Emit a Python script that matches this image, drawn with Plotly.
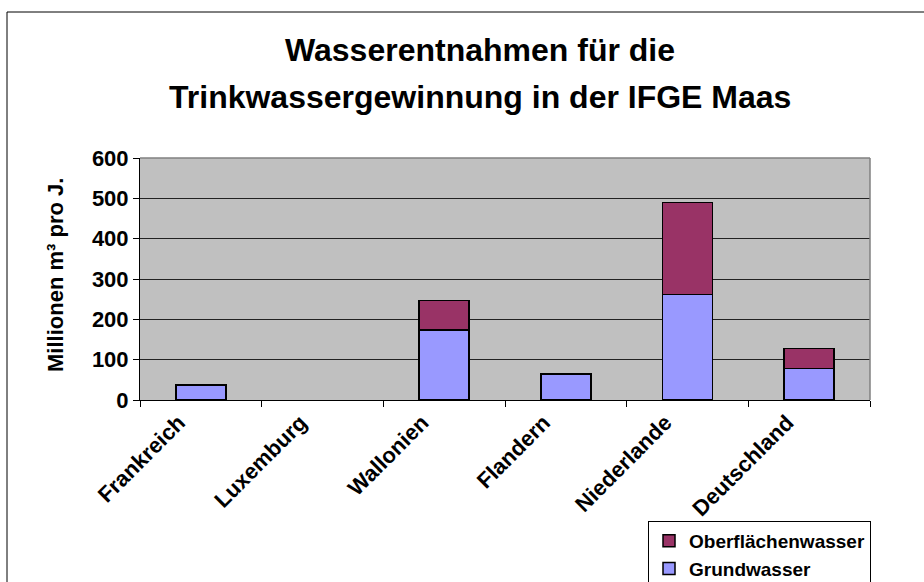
import plotly.graph_objects as go

categories = ["Frankreich", "Luxemburg", "Wallonien", "Flandern", "Niederlande", "Deutschland"]
grundwasser = [37, None, 173, 65, 262, 78]
oberflaechenwasser = [None, None, 74, None, 228, 50]
y_ticks = [0, 100, 200, 300, 400, 500, 600]

FONT = "Liberation Sans, Arial, sans-serif"

fig = go.Figure()
fig.add_trace(go.Bar(
    x=categories, y=grundwasser, name="Grundwasser",
    marker=dict(color="#9999FF", line=dict(color="black", width=1.5)),
))
fig.add_trace(go.Bar(
    x=categories, y=oberflaechenwasser, name="Oberflächenwasser",
    marker=dict(color="#993366", line=dict(color="black", width=1.5)),
))

fig.update_layout(
    width=924, height=582,
    margin=dict(l=140, r=54, t=158, b=182, autoexpand=False),
    barmode="stack", bargap=0.59,
    paper_bgcolor="white", plot_bgcolor="#C0C0C0",
    font=dict(family=FONT, color="black", size=22, weight="bold"),
    showlegend=True,
    legend=dict(
        x=(648 - 140) / 730, y=(400 - 521) / 242, xanchor="left", yanchor="top",
        bgcolor="white", bordercolor="black", borderwidth=1,
        font=dict(family=FONT, size=19, weight="bold", color="black"),
        traceorder="reversed", itemwidth=30, tracegroupgap=0, entrywidth=260,
    ),
    xaxis=dict(
        type="category", tickangle=-45, tickson="boundaries",
        ticks="outside", ticklen=6, tickcolor="black",
        showline=True, linecolor="black", linewidth=1, mirror=False,
        showgrid=False, ticklabelshift=-22,
        tickfont=dict(family=FONT, size=22, weight="bold"),
    ),
    yaxis=dict(
        range=[0, 600], tickvals=y_ticks,
        ticks="outside", ticklen=6, tickcolor="black",
        showline=True, linecolor="black", linewidth=1,
        showgrid=True, gridcolor="#222222", gridwidth=1,
        zeroline=False,
        tickfont=dict(family=FONT, size=22, weight="bold"),
    ),
    shapes=[
        dict(type="line", xref="paper", yref="paper", x0=0, x1=1, y0=1, y1=1,
             line=dict(color="#808080", width=1.5)),
        dict(type="line", xref="paper", yref="paper", x0=1, x1=1, y0=0, y1=1,
             line=dict(color="#808080", width=1.5)),
        dict(type="rect", xref="paper", yref="paper", x0=(7 - 140) / 730, x1=1.3,
             y0=-1.0, y1=(400 - 12) / 242,
             line=dict(color="black", width=1)),
    ],
    annotations=[
        dict(text="Wasserentnahmen für die", xref="paper", yref="paper",
             x=(480 - 140) / 730, y=(400 - 50) / 242, xanchor="center", yanchor="middle",
             showarrow=False, font=dict(family=FONT, size=32, weight="bold")),
        dict(text="Trinkwassergewinnung in der IFGE Maas", xref="paper", yref="paper",
             x=(480 - 140) / 730, y=(400 - 97) / 242, xanchor="center", yanchor="middle",
             showarrow=False, font=dict(family=FONT, size=32, weight="bold")),
        dict(text="Millionen m³ pro J.", xref="paper", yref="paper",
             x=(55 - 140) / 730, y=(400 - 275) / 242, xanchor="center", yanchor="middle",
             textangle=-90, showarrow=False, font=dict(family=FONT, size=22, weight="bold")),
    ],
)

fig.write_html("out.html", config={"displayModeBar": False},
               post_script="document.body.style.margin='0px';")
